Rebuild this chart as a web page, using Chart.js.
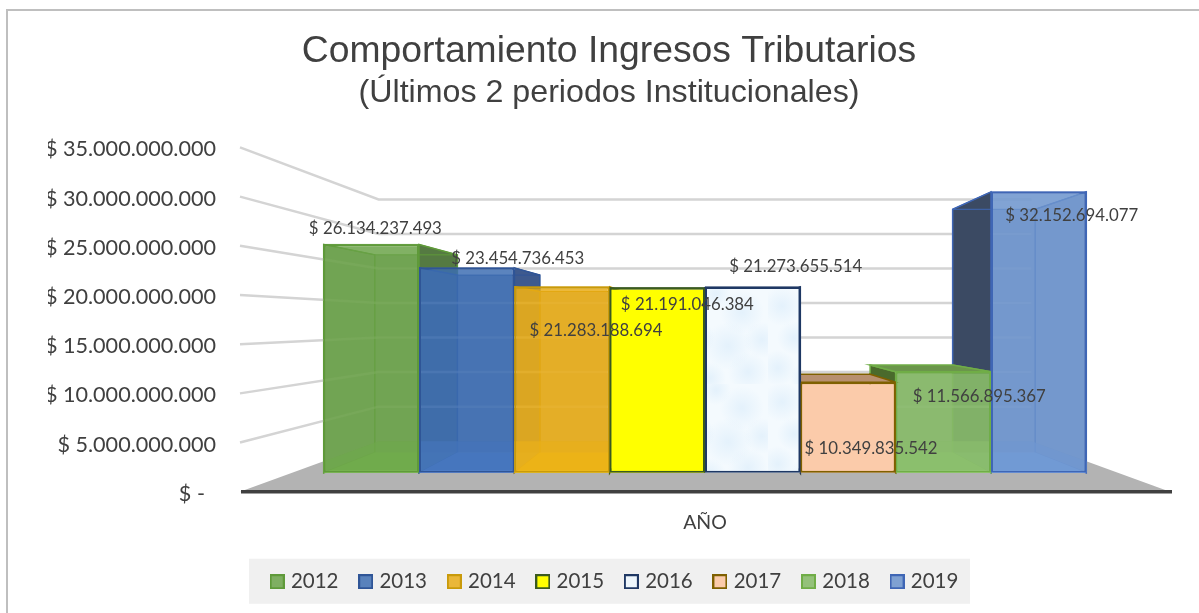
<!DOCTYPE html>
<html>
<head>
<meta charset="utf-8">
<style>
  html, body { margin: 0; padding: 0; background: #fff; overflow: hidden; }
  #wrap { position: relative; width: 1199px; height: 613px; }
  canvas { display: block; }
</style>
<script src="https://cdn.jsdelivr.net/npm/chart.js@4"></script>
</head>
<body>
<div id="wrap"><canvas id="chart" width="1199" height="613"></canvas></div>
<script>
const categories = ['AÑO'];
const years = ['2012', '2013', '2014', '2015', '2016', '2017', '2018', '2019'];
const ingresos = [26134237493, 23454736453, 21283188694, 21191046384, 21273655514, 10349835542, 11566895367, 32152694077];
const yTicks = [0, 5000000000, 10000000000, 15000000000, 20000000000, 25000000000, 30000000000, 35000000000];

const frontColors = ['rgba(105,162,70,.84)', 'rgba(60,108,178,.84)', 'rgba(232,172,20,.84)', '#ffff00', '#eef6fc', '#fbcbaa', 'rgba(134,185,105,.88)', 'rgba(108,148,205,.86)'];
const edgeColors = ['#5f9a3a', '#2f5597', '#c99a0a', '#3a5a20', '#1f3864', '#7f6000', '#70ad47', '#3f66b5'];
const sideColors = ['#557a42', '#3e5a8e', '#b68c16', '#8a8a10', '#5a7696', '#7d5a30', '#4a6a2c', '#3b4a63'];
const topColors = ['#6a9a4b', '#3a5fa5', '#d8a820', '#d8d820', '#c8d8e8', '#b8906f', '#6b964b', '#4a70b8'];
const backColors = ['rgba(130,150,115,.75)', 'rgba(80,110,160,.7)', 'rgba(190,160,90,.7)', '#ffff00', '#e4f1fb', '#f8cbad', 'rgba(120,150,100,.6)', 'rgba(115,135,170,.65)'];
const floorColors = ['rgb(150,215,105)', 'rgb(125,170,255)', 'rgb(255,215,40)', '#ffff00', '#e4f1fb', '#f8cbad', 'rgb(175,230,140)', 'rgb(145,190,255)'];
const labelOffsets = [[4, -16], [51, -9], [34, 44], [30, 17], [43, -20], [23, 66], [36, 25], [33, 24]];

// depth planes around the vanishing point, taken from the floor of the picture
const vanish = { x: 705, y: 322 };
const wallDepth = 0.702;
const barFront = 0.888;
const barBack = 0.769;
const openBars = [0, 1, 2, 6, 7];

function money(v) {
  return '$ ' + String(v).replace(/\B(?=(\d{3})+$)/g, '.');
}

// moves a point from the plane "from" to the plane "to"
function toPlane(px, py, from, to) {
  const k = to / from;
  return [vanish.x + (px - vanish.x) * k, vanish.y + (py - vanish.y) * k];
}

function trace(ctx, pts) {
  ctx.beginPath();
  pts.forEach((p, i) => i ? ctx.lineTo(p[0], p[1]) : ctx.moveTo(p[0], p[1]));
  ctx.closePath();
}

function poly(ctx, pts, fill, stroke, lw) {
  trace(ctx, pts);
  if (fill) { ctx.fillStyle = fill; ctx.fill(); }
  if (stroke) { ctx.strokeStyle = stroke; ctx.lineWidth = lw || 1; ctx.stroke(); }
}

function floorShape(a) {
  return [[a.left, a.bottom], toPlane(a.left, a.bottom, 1, wallDepth), toPlane(a.right, a.bottom, 1, wallDepth), [a.right, a.bottom]];
}

function gridLines(ctx, chart) {
  const a = chart.chartArea, y = chart.scales.y;
  y.ticks.forEach(t => {
    if (t.value === 0) return;
    const py = y.getPixelForValue(t.value);
    const b = toPlane(a.left, py, 1, wallDepth);
    const e = toPlane(a.right, py, 1, wallDepth);
    ctx.beginPath();
    ctx.moveTo(a.left, py);
    ctx.lineTo(b[0], b[1]);
    ctx.lineTo(e[0], e[1]);
    ctx.stroke();
  });
}

const scene3d = {
  id: 'scene3d',
  afterLayout(chart) {
    // the legend text sits a little right of centre
    chart.legend.left += 7;
    chart.legend.right += 7;
  },
  beforeDraw(chart) {
    const { ctx, chartArea: a, legend } = chart;
    ctx.save();
    // outer frame
    ctx.strokeStyle = '#bfbfbf';
    ctx.lineWidth = 2;
    ctx.beginPath();
    ctx.moveTo(7, 613);
    ctx.lineTo(7, 10);
    ctx.lineTo(1199, 10);
    ctx.stroke();
    // legend band
    ctx.fillStyle = '#f0f0f0';
    ctx.fillRect(249, legend.top + 11, 721, 45);
    poly(ctx, floorShape(a), '#b3b3b3');
    ctx.restore();
  },
  beforeDatasetsDraw(chart) {
    const { ctx, chartArea: a } = chart;
    ctx.save();
    ctx.strokeStyle = '#d4d4d4';
    ctx.lineWidth = 2.5;
    gridLines(ctx, chart);
    // axis edge of the floor
    ctx.strokeStyle = '#404040';
    ctx.lineWidth = 3.5;
    ctx.beginPath();
    ctx.moveTo(a.left + 1, a.bottom);
    ctx.lineTo(a.right + 2, a.bottom);
    ctx.stroke();
    // bar bodies, outer ones first so the inner ones cover them
    [0, 7, 1, 6, 2, 5, 3, 4].forEach(i => {
      const bar = chart.getDatasetMeta(i).data[0];
      const l = bar.x - bar.width / 2, r = bar.x + bar.width / 2;
      const tl = toPlane(l, bar.y, barFront, barBack), tr = toPlane(r, bar.y, barFront, barBack);
      const bbl = toPlane(l, bar.base, barFront, barBack), bbr = toPlane(r, bar.base, barFront, barBack);
      const edge = edgeColors[i];
      poly(ctx, [tl, tr, bbr, bbl], backColors[i]);
      poly(ctx, [[l, bar.y], tl, bbl, [l, bar.base]], i > 3 ? sideColors[i] : backColors[i], edge, 1.5);
      poly(ctx, [[r, bar.y], tr, bbr, [r, bar.base]], i < 4 ? sideColors[i] : backColors[i], edge, 1.5);
      if (openBars.includes(i)) {
        // floor and gridlines of the scene seen through the bar, brighter than the walls
        ctx.save();
        trace(ctx, [[l, bar.y], [r, bar.y], [r, bar.base], [l, bar.base]]);
        ctx.clip();
        ctx.globalAlpha = 0.55;
        poly(ctx, floorShape(a), floorColors[i]);
        ctx.globalAlpha = 1;
        ctx.strokeStyle = 'rgba(255,255,255,.4)';
        ctx.lineWidth = 2.5;
        gridLines(ctx, chart);
        ctx.restore();
      }
      poly(ctx, [[l, bar.base], [r, bar.base], bbr, bbl], floorColors[i]);
      if (bar.y > vanish.y) {
        poly(ctx, [[l, bar.y], [r, bar.y], tr, tl], topColors[i], edge, 1.5);
      } else {
        poly(ctx, [[l, bar.y], [r, bar.y], tr, tl], null, edge, 1);
      }
    });
    ctx.restore();
  },
  afterDatasetsDraw(chart) {
    const { ctx } = chart;
    ctx.save();
    ctx.font = '16.8px Lato';
    ctx.fillStyle = '#404040';
    ctx.textAlign = 'center';
    ctx.textBaseline = 'middle';
    ingresos.forEach((v, i) => {
      const bar = chart.getDatasetMeta(i).data[0];
      ctx.fillText(money(v), bar.x + labelOffsets[i][0], bar.y + labelOffsets[i][1]);
    });
    ctx.restore();
  }
};

// mottled fill of the 2016 bar
function iceFill(ctx) {
  const tile = document.createElement('canvas');
  tile.width = 96;
  tile.height = 96;
  const t = tile.getContext('2d');
  t.fillStyle = '#f4fafe';
  t.fillRect(0, 0, 96, 96);
  [[14, 18, 20], [44, 6, 15], [70, 24, 22], [90, 52, 18], [26, 50, 17], [56, 58, 24], [10, 80, 18], [38, 90, 16], [76, 84, 20]].forEach(b => {
    const g = t.createRadialGradient(b[0], b[1], 1, b[0], b[1], b[2]);
    g.addColorStop(0, 'rgba(196,224,247,.32)');
    g.addColorStop(1, 'rgba(196,224,247,0)');
    t.fillStyle = g;
    t.fillRect(0, 0, 96, 96);
  });
  return ctx.createPattern(tile, 'repeat');
}

// legend swatch, drawn as a point image so the text can sit close to it
function swatch(i, fill) {
  const c = document.createElement('canvas');
  c.width = 15;
  c.height = 15;
  const t = c.getContext('2d');
  t.fillStyle = fill;
  t.fillRect(1, 1, 13, 13);
  t.strokeStyle = edgeColors[i];
  t.lineWidth = 2;
  t.strokeRect(1, 1, 13, 13);
  return c;
}

const canvas = document.getElementById('chart');
const fills = frontColors.slice();
fills[4] = iceFill(canvas.getContext('2d'));
const swatches = years.map((y, i) => swatch(i, frontColors[i]));

new Chart(canvas, {
  type: 'bar',
  data: {
    labels: categories,
    datasets: years.map((y, i) => ({
      label: y,
      data: [ingresos[i]],
      yAxisID: 'yBars',
      backgroundColor: fills[i],
      borderColor: edgeColors[i],
      borderWidth: 2,
      borderSkipped: false,
      categoryPercentage: 0.82,
      barPercentage: 1
    }))
  },
  plugins: [scene3d],
  options: {
    responsive: false,
    animation: false,
    layout: { padding: { left: 48, right: 29, top: 29, bottom: 11 } },
    scales: {
      x: {
        grid: { display: false },
        border: { display: false },
        ticks: { color: '#404040', font: { family: 'Lato', size: 19.5 }, padding: 11 },
        afterFit(s) { s.height = 56; }
      },
      y: {
        min: 0,
        max: 35000000000,
        grid: { display: false, drawTicks: false },
        border: { display: false },
        afterBuildTicks(s) { s.ticks = yTicks.map(value => ({ value })); },
        ticks: {
          color: '#404040',
          font: { family: 'Lato', size: 21.6 },
          padding: 24,
          labelOffset: 2,
          callback: v => v === 0 ? '$ -  ' : money(v)
        },
        afterFit(s) { s.width = 192; }
      },
      // bars stand on a plane nearer the back wall, so they get their own scale
      yBars: {
        display: false,
        min: -2170000000,
        max: 37240000000
      }
    },
    plugins: {
      tooltip: { enabled: false },
      title: {
        display: true,
        text: 'Comportamiento Ingresos Tributarios',
        color: '#404040',
        font: { family: 'Liberation Sans', size: 37.3, weight: 'normal' },
        padding: { top: 0, bottom: 0 }
      },
      subtitle: {
        display: true,
        text: '(Últimos 2 periodos Institucionales)',
        color: '#404040',
        font: { family: 'Liberation Sans', size: 32.2, weight: 'normal' },
        padding: { top: 0, bottom: 35 }
      },
      legend: {
        position: 'bottom',
        labels: {
          color: '#404040',
          font: { family: 'Lato', size: 20.5 },
          usePointStyle: true,
          pointStyleWidth: 7,
          padding: 23.75,
          generateLabels(chart) {
            const items = Chart.defaults.plugins.legend.labels.generateLabels(chart);
            items.forEach((item, i) => { item.pointStyle = swatches[i]; });
            return items;
          }
        }
      }
    }
  }
});
</script>
</body>
</html>
